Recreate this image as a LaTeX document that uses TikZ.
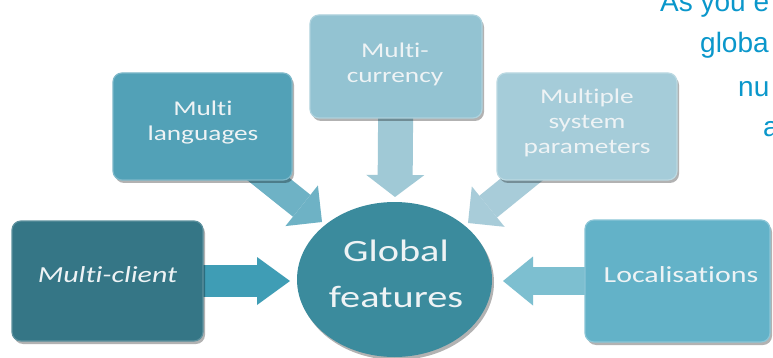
\documentclass[tikz,border=0pt]{standalone}
\usepackage{graphicx}
\usepackage{fontspec}
\setmainfont{Carlito}[Ligatures={NoCommon}]
\newfontfamily\arialfont{Liberation Sans}
\usetikzlibrary{arrows.meta,shapes.geometric,shadows}
\definecolor{cMC}{HTML}{357686}
\definecolor{cGF}{HTML}{3B8B9D}
\definecolor{cLoc}{HTML}{63B2C8}
\definecolor{cML}{HTML}{52A1B7}
\definecolor{cCur}{HTML}{93C3D2}
\definecolor{cMSP}{HTML}{A5CCD9}
\definecolor{aMC}{HTML}{3F9DB5}
\definecolor{aLoc}{HTML}{7DBFD0}
\definecolor{aCur}{HTML}{A0C9D6}
\definecolor{aML}{HTML}{6EB2C5}
\definecolor{aMSP}{HTML}{A8CCD9}
\definecolor{cTxt}{HTML}{EEF3F5}
\definecolor{cBlue}{HTML}{0A97CB}
\newcommand\wt[1]{\scalebox{1.3}[1]{#1}}
\begin{document}
\begin{tikzpicture}[x=1pt,y=-1pt,
  box/.style={rounded corners=9pt, inner sep=0pt, line width=1.2pt,
    drop shadow={shadow xshift=2pt, shadow yshift=-3pt, fill=black, opacity=0.3}},
  txt/.style={text=cTxt, inner sep=0pt, align=center},
  small/.style={font=\fontsize{21}{25}\selectfont},
  barrow/.style 2 args={-{Triangle[length=#1,width=#2,line width=0pt]}},
  side/.style={text=cBlue, inner sep=0pt, anchor=base west, font=\arialfont\fontsize{28}{28}\selectfont}]
\useasboundingbox (0,0) rectangle (773,358);
\clip (0,0) rectangle (773,358);
\fill[white] (0,0) rectangle (773,358);

% anchor coordinates for arrow tips
\coordinate (tipMC) at (290,281);
\coordinate (tipLoc) at (503,281);
\coordinate (tipCur) at (395,197);
\coordinate (tipML) at (322,222);
\coordinate (tipMSP) at (468,223);

% centres of the boxes (boxes drawn after arrows)
\coordinate (cmc) at (107.5,281);
\coordinate (cloc) at (677.5,281);
\coordinate (ccur) at (396,66.5);
\coordinate (cml) at (202.5,126.5);
\coordinate (cmsp) at (587,126.5);

% arrows
\draw[barrow={33pt}{48pt}, line width=32pt, aMC] (cmc) -- (tipMC);
\draw[barrow={30pt}{49pt}, line width=28pt, aLoc] (cloc) -- (tipLoc);
\draw[barrow={22pt}{58pt}, line width=35pt, aCur] (ccur) -- (tipCur);
\draw[barrow={26pt}{52pt}, line width=28pt, aML] (cml) -- (tipML);
\draw[barrow={26pt}{52pt}, line width=28pt, aMSP] (cmsp) -- (tipMSP);

% boxes
\node[box, fill=cMC, draw=cMC!80!white, minimum width=191pt, minimum height=120pt] (mc) at (cmc) {};
\node[box, fill=cLoc, draw=cLoc!75!white, minimum width=185pt, minimum height=122pt] (loc) at (cloc) {};
\node[box, fill=cCur, draw=cCur!75!white, minimum width=172pt, minimum height=103pt] (cur) at (ccur) {};
\node[box, fill=cML, draw=cML!75!white, minimum width=179pt, minimum height=107pt] (ml) at (cml) {};
\node[box, fill=cMSP, draw=cMSP!75!white, minimum width=180pt, minimum height=107pt] (msp) at (cmsp) {};

% central ellipse
\node[ellipse, fill=cGF, minimum width=195pt, minimum height=155pt, inner sep=0pt,
  drop shadow={shadow xshift=2pt, shadow yshift=-3pt, fill=black, opacity=0.3}] (gf) at (394.5,279.5) {};

% texts
\node[txt, font=\fontsize{23}{27}\selectfont\itshape] (mct) at (107.5,275) {\wt{Multi-client}};
\node[txt, font=\fontsize{23}{27}\selectfont] (loct) at (681,274.5) {\wt{Localisations}};
\node[txt, font=\fontsize{31}{46}\selectfont] (gft) at (396,274) {\wt{Global}\\\wt{features}};
\node[txt, small] (mlt) at (203,122.3) {\wt{Multi}\\\wt{languages}};
\node[txt, small] (curt) at (395,64.3) {\wt{Multi-}\\\wt{currency}};
\node[txt, small] (mspt) at (587,122.8) {\wt{Multiple}\\\wt{system}\\\wt{parameters}};

% side text (cut by the picture edge, as in the reference)
\node[side] (s1) at (660,12) {As you e};
\node[side] (s2) at (700,53) {globa};
\node[side] (s3) at (738,97) {nu};
\node[side] (s4) at (763,137) {a};
\end{tikzpicture}
\end{document}
